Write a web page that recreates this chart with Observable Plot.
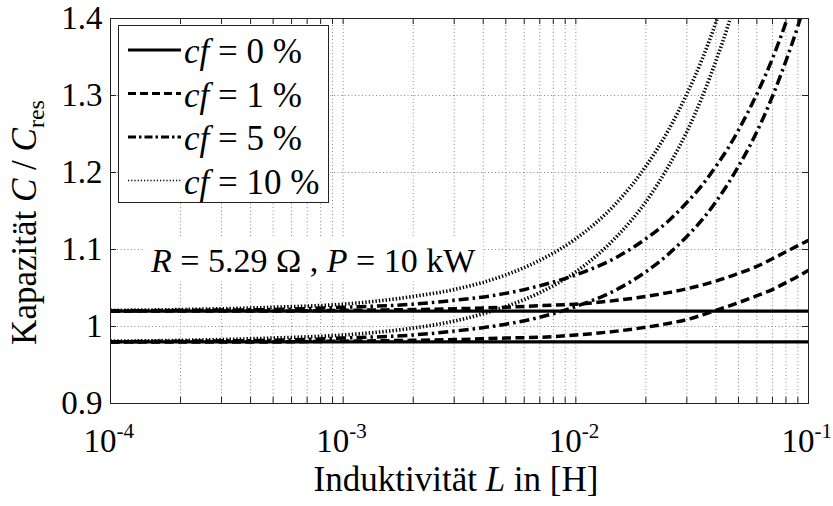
<!DOCTYPE html>
<html><head><meta charset="utf-8">
<script src="https://cdn.jsdelivr.net/npm/d3@7"></script>
<script src="https://cdn.jsdelivr.net/npm/@observablehq/plot@0.6"></script>
<style>
html,body{margin:0;padding:0;background:#fff;}
#chart svg{display:block;}
</style>
</head><body><div id="chart"></div>
<script>
// ---------- data ----------
const L = [1e-4, 2e-4, 5e-4, 1e-3, 2e-3, 3e-3, 5e-3, 7e-3, 1e-2, 1.5e-2, 2e-2, 2.5e-2, 3e-2, 3.5e-2, 4e-2, 4.5e-2, 5e-2, 6e-2, 7e-2, 8e-2, 9e-2, 1e-1];

const cf0Upper = [1.02,1.02,1.02,1.02,1.02,1.02,1.02,1.02,1.02,1.02,1.02,1.02,1.02,1.02,1.02,1.02,1.02,1.02,1.02,1.02,1.02,1.02];
const cf0Lower = [0.98,0.98,0.98,0.98,0.98,0.98,0.98,0.98,0.98,0.98,0.98,0.98,0.98,0.98,0.98,0.98,0.98,0.98,0.98,0.98,0.98,0.98];
const cf1Upper = [1.020,1.020,1.020,1.021,1.022,1.023,1.025,1.027,1.029,1.034,1.039,1.044,1.049,1.054,1.059,1.064,1.069,1.078,1.088,1.097,1.105,1.112];
const cf1Lower = [0.980,0.980,0.980,0.981,0.982,0.983,0.985,0.986,0.989,0.994,0.999,1.004,1.009,1.015,1.021,1.026,1.031,1.040,1.048,1.057,1.065,1.073];
const cf5Upper = [1.020,1.021,1.022,1.025,1.029,1.034,1.043,1.053,1.067,1.090,1.114,1.137,1.161,1.184,1.208,1.231,1.255,1.302,1.348,1.395,1.442,null];
const cf5Lower = [0.980,0.981,0.982,0.985,0.989,0.994,1.003,1.012,1.026,1.048,1.071,1.094,1.117,1.139,1.162,1.185,1.208,1.253,1.299,1.345,1.390,1.436];
const cf10Upper = [1.021,1.022,1.025,1.029,1.039,1.048,1.067,1.086,1.114,1.161,1.208,1.255,1.302,1.348,1.395,1.442,null,null,null,null,null,null];
const cf10Lower = [0.981,0.982,0.985,0.989,0.998,1.007,1.026,1.044,1.071,1.117,1.162,1.208,1.253,1.299,1.345,1.390,1.436,null,null,null,null,null];

const cfNames = ["0", "1", "5", "10"];
const xTicks = [1e-4, 1e-3, 1e-2, 1e-1];
const xTickExponents = ["-4", "-3", "-2", "-1"];
const xMinorTicks = [2e-4,3e-4,4e-4,5e-4,6e-4,7e-4,8e-4,9e-4,2e-3,3e-3,4e-3,5e-3,6e-3,7e-3,8e-3,9e-3,2e-2,3e-2,4e-2,5e-2,6e-2,7e-2,8e-2,9e-2];
const yTicks = [0.9, 1, 1.1, 1.2, 1.3, 1.4];
const yTickLabels = ["0.9", "1", "1.1", "1.2", "1.3", "1.4"];
const note = {L: 1.5e-4, C: 1.07};

// ---------- styles ----------
const lineStyles = [
  {dash: null, width: 3.2},
  {dash: "9,4.5", width: 3.5},
  {dash: "10,4,2.5,4", width: 3.5},
  {dash: "1.4,2", width: 3.6}
];
const legendStyles = [
  {dash: null, width: 3},
  {dash: "8,4", width: 3},
  {dash: "8,3,2.5,3", width: 3},
  {dash: "1.2,2", width: 1.6}
];
const seriesGroups = [[cf0Upper, cf0Lower], [cf1Upper, cf1Lower], [cf5Upper, cf5Lower], [cf10Upper, cf10Lower]];

const W = 833, H = 506, mL = 110, mR = 25, mT = 18, mB = 103;
const innerW = W - mL - mR, innerH = H - mT - mB;
const FONT = "'Liberation Serif', 'Times New Roman', Times, serif";
const ink = "#222";

const lineMarks = [];
seriesGroups.forEach((grp, gi) => {
  grp.forEach((vals) => {
    const rows = L.map((l, i) => ({L: l, v: vals[i]}));
    const st = lineStyles[gi];
    lineMarks.push(Plot.line(rows, {
      x: "L", y: "v", stroke: "#000", strokeWidth: st.width,
      strokeDasharray: st.dash, strokeLinecap: "butt", strokeLinejoin: "round",
      curve: "monotone-x", clip: true
    }));
  });
});

const allX = [...xTicks, ...xMinorTicks];

const plot = Plot.plot({
  width: W, height: H,
  marginLeft: mL, marginRight: mR, marginTop: mT, marginBottom: mB,
  style: {fontFamily: FONT, background: "#fff", color: "#000"},
  x: {type: "log", domain: [1e-4, 1e-1], axis: null},
  y: {domain: [0.9, 1.4]},
  marks: [
    Plot.ruleX(allX, {x: d => d, stroke: "#888", strokeDasharray: "1,2.5", strokeWidth: 1}),
    Plot.ruleY(yTicks, {y: d => d, stroke: "#888", strokeDasharray: "1,2.5", strokeWidth: 1}),
    ...lineMarks,
    Plot.frame({stroke: ink}),
    Plot.ruleX(allX, {x: d => d, insetTop: innerH - 6, stroke: ink}),
    Plot.ruleX(allX, {x: d => d, insetBottom: innerH - 6, stroke: ink}),
    Plot.ruleY(yTicks, {y: d => d, insetRight: innerW - 6, stroke: ink}),
    Plot.ruleY(yTicks, {y: d => d, insetLeft: innerW - 6, stroke: ink}),
    Plot.axisY({ticks: yTicks, tickSize: 0, tickPadding: 8, label: null, fontSize: 33,
      tickFormat: d => yTickLabels[yTicks.indexOf(d)]}),
    Plot.text(xTicks, {x: d => d, text: d => "10", frameAnchor: "bottom", textAnchor: "end",
      lineAnchor: "bottom", dx: 6, dy: 48, fontSize: 33}),
    Plot.text(xTicks, {x: d => d, text: (d, i) => xTickExponents[i], frameAnchor: "bottom", textAnchor: "start",
      lineAnchor: "bottom", dx: 6, dy: 34, fontSize: 21})
  ]
});
document.getElementById("chart").appendChild(plot);

const svg = d3.select(plot);
const xs = plot.scale("x"), ys = plot.scale("y");

// annotation with white box
const annX = xs.apply(note.L), annY = ys.apply(note.C);
const ann = svg.append("text").attr("x", annX).attr("y", annY).attr("text-anchor", "start")
  .attr("font-family", FONT).attr("font-size", 34).attr("fill", "#000");
ann.append("tspan").attr("font-style", "italic").text("R");
ann.append("tspan").text(" = 5.29 Ω , ");
ann.append("tspan").attr("font-style", "italic").text("P");
ann.append("tspan").text(" = 10 kW");
const bb = ann.node().getBBox();
svg.insert("rect", () => ann.node()).attr("x", bb.x - 5).attr("y", bb.y - 6)
  .attr("width", bb.width + 12).attr("height", bb.height + 8).attr("fill", "#fff");

// legend
const lg = svg.append("g").attr("font-family", FONT).attr("text-anchor", "start");
lg.append("rect").attr("x", 118.5).attr("y", 25.5).attr("width", 210).attr("height", 177)
  .attr("fill", "#fff").attr("stroke", ink);
cfNames.forEach((n, i) => {
  const yy = 50 + i * 43.5;
  const st = legendStyles[i];
  lg.append("line").attr("x1", 128).attr("x2", 181).attr("y1", yy).attr("y2", yy)
    .attr("stroke", "#000").attr("stroke-width", st.width)
    .attr("stroke-dasharray", st.dash).attr("stroke-linecap", "butt");
  const t = lg.append("text").attr("x", 184).attr("y", yy + 13).attr("text-anchor", "start")
    .attr("font-size", 35).attr("fill", "#000");
  t.append("tspan").attr("font-style", "italic").text("cf");
  t.append("tspan").text(` = ${n} %`);
});

// axis labels
const xl = svg.append("text").attr("x", mL + innerW / 2 - 3).attr("y", 491)
  .attr("text-anchor", "middle").attr("font-family", FONT).attr("font-size", 35).attr("fill", "#000");
xl.append("tspan").text("Induktivität ");
xl.append("tspan").attr("font-style", "italic").text("L");
xl.append("tspan").text(" in [H]");

const yl = svg.append("text").attr("transform", `translate(36,${mT + innerH / 2 + 12}) rotate(-90)`)
  .attr("text-anchor", "middle").attr("font-family", FONT).attr("font-size", 35).attr("fill", "#000");
yl.append("tspan").text("Kapazität ");
yl.append("tspan").attr("font-style", "italic").text("C");
yl.append("tspan").text(" / ");
yl.append("tspan").attr("font-style", "italic").text("C");
yl.append("tspan").attr("font-size", 24).attr("dy", 8).text("res");
</script>
</body></html>
